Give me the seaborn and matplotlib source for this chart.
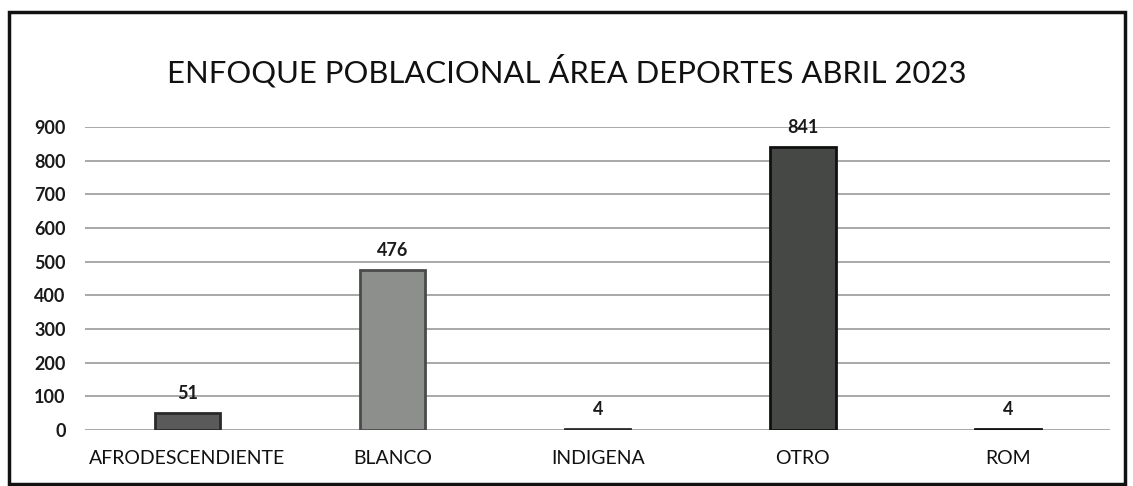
import pandas as pd
import seaborn as sns
import matplotlib.pyplot as plt
from matplotlib.patches import Rectangle

# Data
categories = ['AFRODESCENDIENTE', 'BLANCO', 'INDIGENA', 'OTRO', 'ROM']
values = [51, 476, 4, 841, 4]
bar_colors = ['#5a5a5a', '#8c8f8c', '#6a6a6a', '#454845', '#222222']
edge_colors = ['#2a2a2a', '#4a4a4a', '#2a2a2a', '#111111', '#111111']
y_ticks = [0, 100, 200, 300, 400, 500, 600, 700, 800, 900]

df = pd.DataFrame({'Categoria': categories, 'Total': values})

sns.set_style("white")
plt.rcParams['font.family'] = ['Lato', 'DejaVu Sans']

fig = plt.figure(figsize=(11.33, 4.86), dpi=100)
ax = fig.add_axes([0.075, 0.115, 0.905, 0.624])

sns.barplot(x='Categoria', y='Total', hue='Categoria', data=df,
            palette=dict(zip(categories, bar_colors)), legend=False,
            width=0.32, ax=ax, zorder=3)

for p, ec in zip(ax.patches, edge_colors):
    p.set_edgecolor(ec)
    p.set_linewidth(2)

# Data labels
for p, v in zip(ax.patches, values):
    ax.annotate(str(v), (p.get_x() + p.get_width() / 2., p.get_height()),
                ha='center', va='bottom', xytext=(0, 8),
                textcoords='offset points', fontsize=13, fontweight='bold',
                color='#1a1a1a')

ax.set_ylim(0, 900)
ax.set_yticks(y_ticks)
ax.set_yticklabels([str(t) for t in y_ticks], fontsize=13, fontweight='bold', color='#1a1a1a')
ax.tick_params(axis='x', labelsize=14, colors='#111111', pad=14, length=0)
ax.tick_params(axis='y', pad=14, length=0)
ax.set_xlabel('')
ax.set_ylabel('')
ax.yaxis.grid(True, color='#9a9a9a', linewidth=1.2, zorder=0)
for s in ax.spines.values():
    s.set_visible(False)

fig.text(0.5, 0.855, 'ENFOQUE POBLACIONAL ÁREA DEPORTES ABRIL 2023',
         ha='center', va='center', fontsize=22.3, color='#111111')

# Chart border
fig.patches.append(Rectangle((0.008, 0.005), 0.985, 0.97, transform=fig.transFigure,
                             fill=False, edgecolor='#111111', linewidth=2.5))

fig.savefig('out.png', dpi=100)
